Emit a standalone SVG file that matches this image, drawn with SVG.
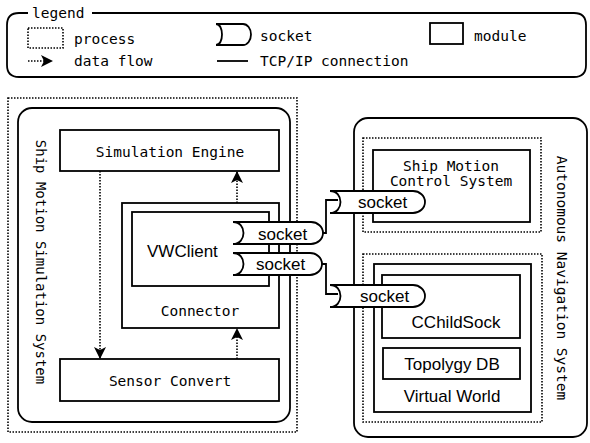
<svg xmlns="http://www.w3.org/2000/svg" width="590" height="443" viewBox="0 0 590 443">
<style>
.s{fill:none;stroke:#000;stroke-width:1.8}
.d{fill:none;stroke:#000;stroke-width:1.6;stroke-dasharray:1.5 1.5}
.sk{fill:#fff;stroke:#000;stroke-width:1.8}
.m{font-family:"DejaVu Sans Mono","Liberation Mono",monospace;font-size:14.5px;fill:#000}
.a{font-family:"Liberation Sans",Arial,sans-serif;font-size:17px;fill:#000}
.c{text-anchor:middle}
</style>
<defs>
<marker id="ah" markerUnits="userSpaceOnUse" markerWidth="12" markerHeight="12" viewBox="0 0 12 12" refX="11" refY="6" orient="auto">
<path d="M0,0 L12,6 L0,12 L3,6 Z" fill="#000"/>
</marker>
</defs>
<rect width="590" height="443" fill="#fff"/>

<g id="legend">
<path class="s" d="M28,13 H19 Q7,13 7,25 V65 Q7,77 19,77 H574 Q586,77 586,65 V25 Q586,13 574,13 H92"/>
<text class="m" x="32" y="18">legend</text>
<rect class="d" x="28" y="28" width="35" height="20"/>
<text class="m" x="74" y="44">process</text>
<line class="d" x1="28" y1="61" x2="52" y2="61" marker-end="url(#ah)"/>
<text class="m" x="74" y="66">data flow</text>
<path class="sk" d="M216,24 H243 A8 10.5 0 0 1 243,45 H216 C224,45 224,24 216,24 Z"/>
<text class="m" x="260" y="41">socket</text>
<line class="s" x1="217" y1="61" x2="248" y2="61"/>
<text class="m" x="260" y="66">TCP/IP connection</text>
<rect class="s" x="430" y="23" width="33" height="21"/>
<text class="m" x="474" y="41">module</text>
</g>

<g id="ship-motion-simulation-system">
<rect class="d" x="8" y="98" width="289" height="334"/>
<rect class="s" x="18" y="108" width="272" height="314" rx="14"/>
<text class="m c" style="font-size:14px" transform="translate(36,262) rotate(90)">Ship Motion Simulation System</text>
</g>

<g id="simulation-engine">
<rect class="s" x="60" y="130" width="219" height="41"/>
<text class="m c" x="170" y="157">Simulation Engine</text>
</g>

<g id="sensor-convert">
<rect class="s" x="60" y="359" width="219" height="42"/>
<text class="m c" x="170" y="386">Sensor Convert</text>
</g>

<g id="connector">
<rect class="s" x="122" y="203" width="157" height="125"/>
<text class="m c" x="200" y="316">Connector</text>
</g>

<g id="vwclient">
<rect class="s" x="132" y="212" width="137" height="74"/>
<text class="a" x="147" y="257">VWClient</text>
</g>

<g id="autonomous-navigation-system">
<rect class="s" x="354" y="118" width="233" height="319" rx="14"/>
<text class="m c" transform="translate(557,278) rotate(90)">Autonomous Navigation System</text>
</g>

<g id="ship-motion-control-process">
<rect class="d" x="363" y="138" width="178" height="94"/>
</g>
<g id="ship-motion-control-system">
<rect class="s" x="373" y="150" width="157" height="72"/>
<text class="m c" x="451" y="171">Ship Motion</text>
<text class="m c" x="451" y="186">Control System</text>
</g>

<g id="virtual-world-process">
<rect class="d" x="363" y="254" width="179" height="168"/>
</g>
<g id="virtual-world">
<rect class="s" x="374" y="264" width="157" height="148"/>
<text class="a c" x="452" y="402">Virtual World</text>
</g>
<g id="cchildsock">
<rect class="s" x="382" y="275" width="138" height="63"/>
<text class="a c" x="456" y="328">CChildSock</text>
</g>
<g id="topolygy-db">
<rect class="s" x="383" y="348" width="137" height="31"/>
<text class="a c" x="452" y="370">Topolygy DB</text>
</g>

<g id="connectors">
<line class="d" x1="100" y1="171" x2="100" y2="358" marker-end="url(#ah)"/>
<line class="d" x1="237" y1="203" x2="237" y2="172" marker-end="url(#ah)"/>
<line class="d" x1="237" y1="359" x2="237" y2="329" marker-end="url(#ah)"/>
<path class="s" d="M322,233 H326 V200 H338"/>
<path class="s" d="M321,264 H326 V294 H338"/>
</g>

<g id="socket-vw1">
<path class="sk" d="M233,222 H311 A12 11 0 0 1 311,244 H233 C247,244 247,222 233,222 Z"/>
<text class="a" x="258" y="240">socket</text>
</g>
<g id="socket-vw2">
<path class="sk" d="M233,253 H310 A12 11 0 0 1 310,275 H233 C247,275 247,253 233,253 Z"/>
<text class="a" x="256" y="270">socket</text>
</g>
<g id="socket-smcs">
<path class="sk" d="M330,191 H413 A12 11 0 0 1 413,213 H330 C344,213 344,191 330,191 Z"/>
<text class="a" x="358" y="208">socket</text>
</g>
<g id="socket-cchild">
<path class="sk" d="M330,285 H413 A12 11 0 0 1 413,307 H330 C344,307 344,285 330,285 Z"/>
<text class="a" x="360" y="302">socket</text>
</g>
</svg>
